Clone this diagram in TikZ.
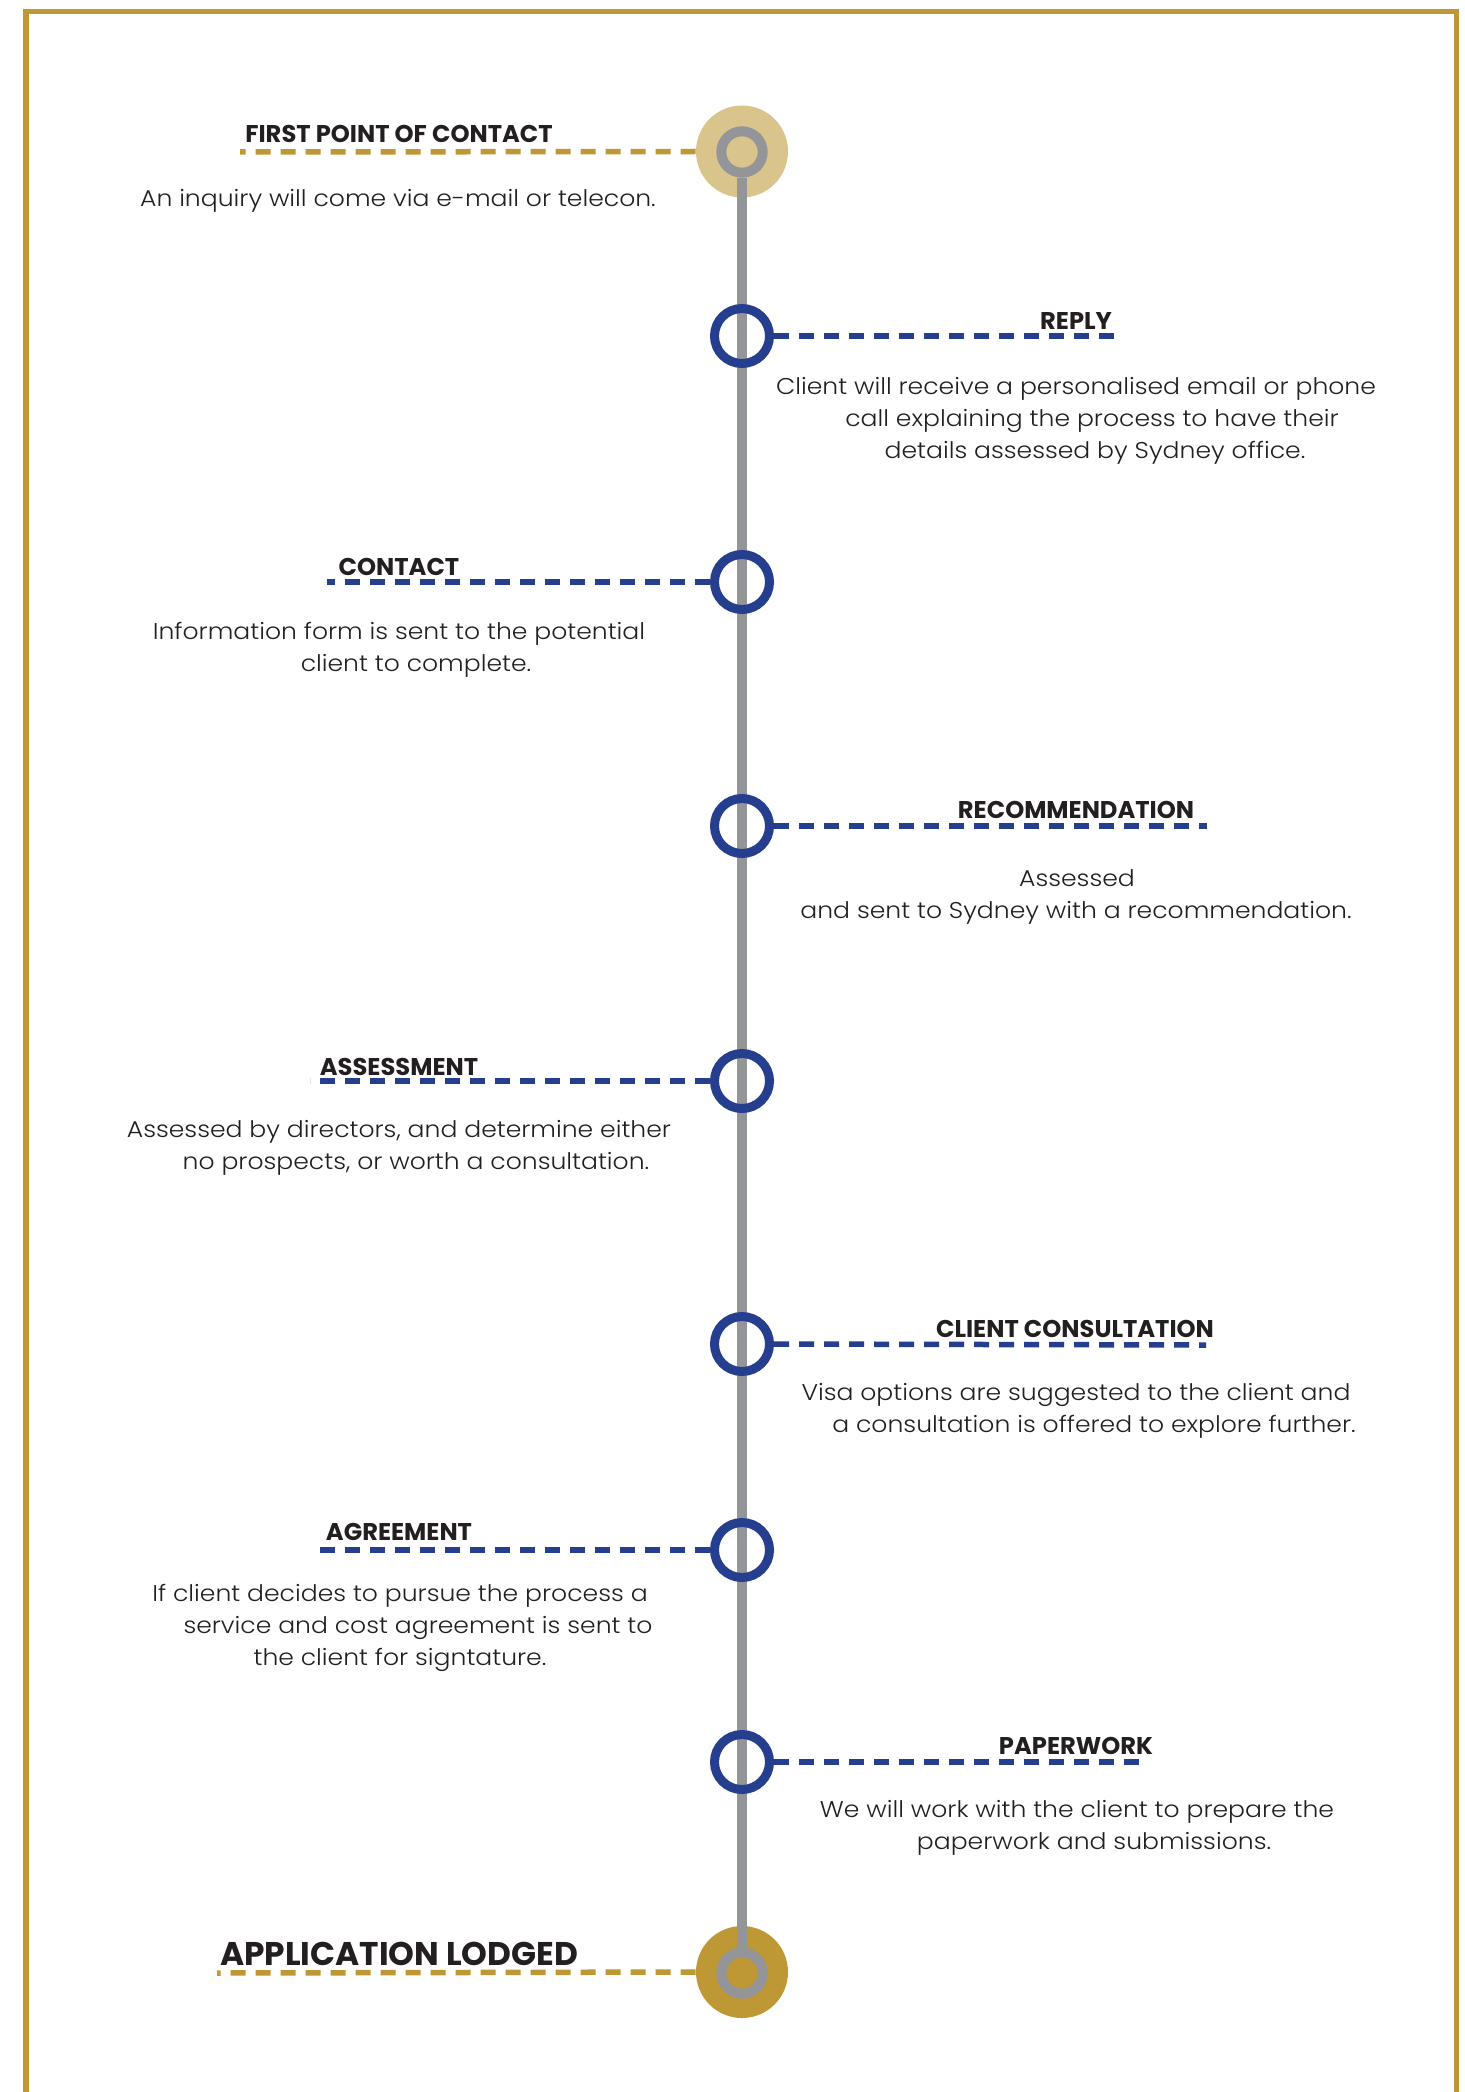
\documentclass[tikz,border=0pt]{standalone}
\usepackage{fontspec}
\setmainfont{Poppins}
\newfontfamily\bodyfont{Poppins Light}[FakeStretch=1.1]
\newfontfamily\headfont{Poppins}[FakeStretch=1.0]
\definecolor{gold}{RGB}{190,152,52}
\definecolor{lightgold}{RGB}{217,196,140}
\definecolor{navy}{RGB}{38,62,142}
\definecolor{grayline}{RGB}{147,149,152}
\definecolor{txt}{RGB}{35,31,32}
\tikzset{
  body/.style={font=\bodyfont\fontsize{11.4}{13}\selectfont, text=txt, inner sep=0pt, anchor=base},
  head/.style={font=\headfont\bfseries\fontsize{12.1}{14}\selectfont, text=txt, inner sep=0pt, anchor=base},
  bighead/.style={font=\headfont\bfseries\fontsize{16.4}{18}\selectfont, text=txt, inner sep=0pt, anchor=base},
  goldfill/.style={circle, inner sep=0pt, minimum size=46pt, fill=#1},
  ring/.style={circle, draw=grayline, line width=5pt, inner sep=0pt, minimum size=20.7pt},
  stepc/.style={circle, draw=navy, line width=4.5pt, inner sep=0pt, minimum size=27.5pt},
  golddash/.style={draw=gold, line width=2.75pt, dash pattern=on 7.5pt off 5pt},
  navydash/.style={draw=navy, line width=2.75pt, dash pattern=on 7.5pt off 5pt},
  spine/.style={draw=grayline, line width=5pt},
  frame/.style={draw=gold, line width=2.75pt}
}
\begin{document}
\begin{tikzpicture}[x=0.5pt, y=-0.5pt]
\useasboundingbox (0,0) rectangle (1465,2092);
\fill[white] (0,0) rectangle (1465,2092);
% frame
\draw[frame] (26,2092) -- (26,11.5) -- (1456.5,11.5) -- (1456.5,2092);

% start and end markers
\node[goldfill=lightgold] (s1) at (742,151.5) {};
\node[ring] (r1) at (742,152) {};
\node[goldfill=gold] (s9) at (742,1972) {};
\node[ring] (r9) at (742,1973) {};

% spine
\draw[spine] (r1.south) -- (r9.north);

% step circles
\node[stepc] (s2) at (742,336) {};
\node[stepc] (s3) at (742,582) {};
\node[stepc] (s4) at (742,826) {};
\node[stepc] (s5) at (742,1081) {};
\node[stepc] (s6) at (742,1344) {};
\node[stepc] (s7) at (742,1550) {};
\node[stepc] (s8) at (742,1762) {};

% dash ends
\coordinate (e1) at (240,152);
\coordinate (e2) at (1114,336);
\coordinate (e3) at (327,582);
\coordinate (e4) at (1207,826);
\coordinate (e5) at (310,1081);
\coordinate (e6) at (1206,1345);
\coordinate (e7) at (313,1550);
\coordinate (e8) at (1145,1762);
\coordinate (e9) at (217,1973);

\draw[golddash] (s1.west) -- (e1);
\draw[navydash] (s2.east) -- (e2);
\draw[navydash] (s3.west) -- (e3);
\draw[navydash] (s4.east) -- (e4);
\draw[navydash] (s5.west) -- (e5);
\draw[navydash] (s6.east) -- (e6);
\draw[navydash] (s7.west) -- (e7);
\draw[navydash] (s8.east) -- (e8);
\draw[golddash] (s9.west) -- (e9);

% headings
\node[head] (h1) at (399,143) {FIRST POINT OF CONTACT};
\node[head] (h2) at (1076,329) {REPLY};
\node[head] (h3) at (399,575) {CONTACT};
\node[head] (h4) at (1076,818) {RECOMMENDATION};
\node[head] (h5) at (399,1075) {ASSESSMENT};
\node[head] (h6) at (1075,1337) {CLIENT CONSULTATION};
\node[head] (h7) at (399,1540) {AGREEMENT};
\node[head] (h8) at (1076,1754) {PAPERWORK};
\node[bighead] (h9) at (399,1965) {APPLICATION LODGED};

% body texts
\node[body] (b1a) at (398,207) {An inquiry will come via e-mail or telecon.};

\node[body] (b2a) at (1076,394) {Client will receive a personalised email or phone};
\node[body] (b2b) at (1092,426) {call explaining the process to have their};
\node[body] (b2c) at (1095,458) {details assessed by Sydney office.};

\node[body] (b3a) at (399,639) {Information form is sent to the potential};
\node[body] (b3b) at (416,671) {client to complete.};

\node[body] (b4a) at (1077,886) {Assessed};
\node[body] (b4b) at (1076,918) {and sent to Sydney with a recommendation.};

\node[body] (b5a) at (399,1137) {Assessed by directors, and determine either};
\node[body] (b5b) at (416,1169) {no prospects, or worth a consultation.};

\node[body] (b6a) at (1076,1400) {Visa options are suggested to the client and};
\node[body] (b6b) at (1094,1432) {a consultation is offered to explore further.};

\node[body] (b7a) at (400,1601) {If client decides to pursue the process a};
\node[body] (b7b) at (418,1633) {service and cost agreement is sent to};
\node[body] (b7c) at (400,1665) {the client for signtature.};

\node[body] (b8a) at (1077,1817) {We will work with the client to prepare the};
\node[body] (b8b) at (1094,1849) {paperwork and submissions.};
\end{tikzpicture}
\end{document}
